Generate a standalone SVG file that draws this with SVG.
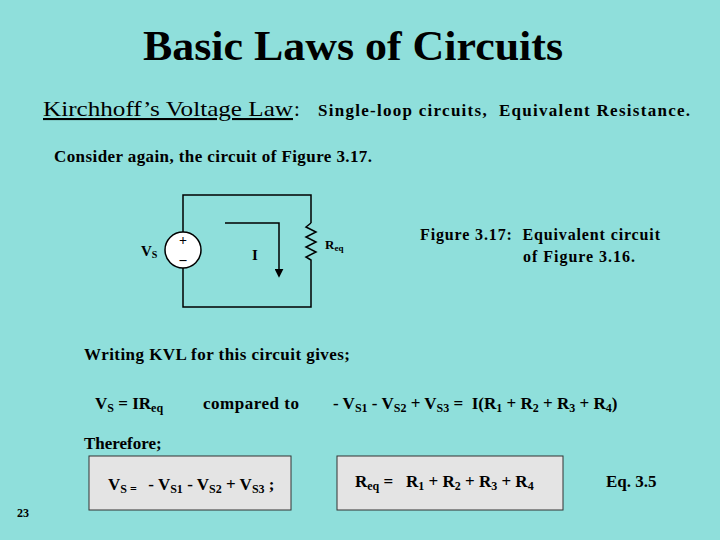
<svg xmlns="http://www.w3.org/2000/svg" width="720" height="540" viewBox="0 0 720 540">
<style>
text{font-family:"Liberation Serif",serif;font-weight:bold;fill:#000;white-space:pre}
.w{stroke:#000;stroke-width:1.5;fill:none}
.box{fill:#e4e4e4;stroke:#333;stroke-width:1}
</style>
<defs><marker id="ah" viewBox="0 0 10 10" refX="8" refY="5" markerWidth="6" markerHeight="6" orient="auto"><path d="M0,0L10,5L0,10z" fill="#000"/></marker></defs>
<rect width="720" height="540" fill="#8fdfdb"/>
<text x="143" y="60" font-size="42" textLength="420" lengthAdjust="spacingAndGlyphs">Basic Laws of Circuits</text>
<text x="43" y="116" font-size="21" style="font-weight:normal" text-decoration="underline" textLength="250" lengthAdjust="spacingAndGlyphs">Kirchhoff’s Voltage Law</text>
<text x="294" y="116" font-size="21" style="font-weight:normal">:</text>
<text x="318" y="116" font-size="17" textLength="372">Single-loop circuits,  Equivalent Resistance.</text>
<text x="54" y="162" font-size="17" textLength="318">Consider again, the circuit of Figure 3.17.</text>
<g id="circuit">
<path class="w" d="M183,232V195H311V223M311,262V307H183V268"/>
<path class="w" d="M311,223l-5,4l10,5l-10,5l10,5l-10,5l10,5l-10,5l5,3v2"/>
<circle cx="183" cy="250" r="18" fill="#fff" stroke="#000" stroke-width="1.5"/>
<text x="183" y="245" font-size="14" text-anchor="middle">+</text>
<text x="183" y="264" font-size="14" text-anchor="middle">–</text>
<text x="141" y="256" font-size="15">V<tspan font-size="10" dy="2">S</tspan></text>
<text x="252" y="260" font-size="15">I</text>
<text x="325" y="249" font-size="13">R<tspan font-size="9" dy="2">eq</tspan></text>
<path class="w" d="M225,223H279V276" marker-end="url(#ah)"/>
</g>
<text x="420" y="240" font-size="16" textLength="240">Figure 3.17:  Equivalent circuit</text>
<text x="523" y="262" font-size="16" textLength="112">of Figure 3.16.</text>
<text x="84" y="360" font-size="17" textLength="266">Writing KVL for this circuit gives;</text>
<text x="95" y="409" font-size="17">V<tspan font-size="12" dy="3">S</tspan><tspan dy="-3"> = IR</tspan><tspan font-size="12" dy="3">eq</tspan></text>
<text x="203" y="409" font-size="17" textLength="96">compared to</text>
<text x="333" y="409" font-size="17">- V<tspan font-size="12" dy="3">S1</tspan><tspan dy="-3"> - V</tspan><tspan font-size="12" dy="3">S2</tspan><tspan dy="-3"> + V</tspan><tspan font-size="12" dy="3">S3</tspan><tspan dy="-3"> =  I(R</tspan><tspan font-size="12" dy="3">1</tspan><tspan dy="-3"> + R</tspan><tspan font-size="12" dy="3">2</tspan><tspan dy="-3"> + R</tspan><tspan font-size="12" dy="3">3</tspan><tspan dy="-3"> + R</tspan><tspan font-size="12" dy="3">4</tspan><tspan dy="-3">)</tspan></text>
<text x="84" y="449" font-size="17">Therefore;</text>
<rect class="box" x="89" y="456" width="202" height="54"/>
<rect class="box" x="337" y="456" width="226" height="54"/>
<text x="108" y="490" font-size="17">V<tspan font-size="12" dy="3">S = </tspan><tspan dy="-3">  - V</tspan><tspan font-size="12" dy="3">S1</tspan><tspan dy="-3"> - V</tspan><tspan font-size="12" dy="3">S2</tspan><tspan dy="-3"> + V</tspan><tspan font-size="12" dy="3">S3</tspan><tspan dy="-3"> ;</tspan></text>
<text x="355" y="487" font-size="17">R<tspan font-size="12" dy="3">eq</tspan><tspan dy="-3"> =   R</tspan><tspan font-size="12" dy="3">1</tspan><tspan dy="-3"> + R</tspan><tspan font-size="12" dy="3">2</tspan><tspan dy="-3"> + R</tspan><tspan font-size="12" dy="3">3</tspan><tspan dy="-3"> + R</tspan><tspan font-size="12" dy="3">4</tspan></text>
<text x="606" y="487" font-size="17">Eq. 3.5</text>
<text x="17" y="517" font-size="12">23</text>
</svg>
